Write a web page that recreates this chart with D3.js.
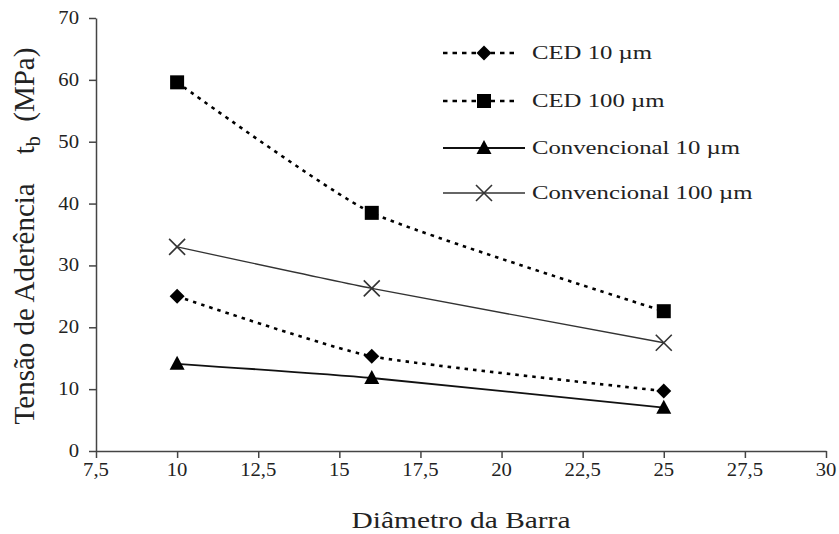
<!DOCTYPE html>
<html>
<head>
<meta charset="utf-8">
<script src="https://cdn.jsdelivr.net/npm/d3@7"></script>
<style>
  body { margin: 0; background: #fff; }
  svg { font-family: "Liberation Serif", "Times New Roman", serif; }
</style>
</head>
<body>
<svg width="839" height="534"></svg>
<script>
// data
diametros = [10, 16, 25];
ced10 = [25.0, 15.3, 9.7];
ced100 = [59.6, 38.5, 22.6];
conv10 = [14.1, 11.8, 7.0];
conv100 = [33.0, 26.3, 17.5];
xTicks = [7.5, 10, 12.5, 15, 17.5, 20, 22.5, 25, 27.5, 30];
yTicks = [0, 10, 20, 30, 40, 50, 60, 70];
seriesNames = ['CED 10 \u00b5m', 'CED 100 \u00b5m', 'Convencional 10 \u00b5m', 'Convencional 100 \u00b5m'];

svg = d3.select('svg');

plotLeft = 96; plotRight = 826; plotTop = 18; plotBottom = 451;

xScale = d3.scaleLinear().domain([7.5, 30]).range([plotLeft, plotRight]);
yScale = d3.scaleLinear().domain([0, 70]).range([plotBottom, plotTop]);

axisColor = '#444';
textColor = '#222';

// text helper, stretched in x around its anchor point (picture text is wide)
stretchedText = (x, y, str, size, anchor, sx) => {
    return svg.append('text')
        .attr('transform', `translate(${x},${y}) scale(${sx},1)`)
        .attr('text-anchor', anchor)
        .attr('font-size', size)
        .attr('fill', textColor)
        .text(str);
};

// axes
svg.append('g')
    .attr('transform', `translate(0, ${plotBottom})`)
    .call(d3.axisBottom(xScale).tickValues(xTicks).tickSize(7).tickSizeOuter(0).tickFormat(''));
svg.append('g')
    .attr('transform', `translate(${plotLeft}, 0)`)
    .call(d3.axisLeft(yScale).tickValues(yTicks).tickSize(7).tickSizeOuter(0).tickFormat(''));
svg.selectAll('.domain, .tick line')
    .attr('stroke', axisColor)
    .attr('stroke-width', 1.5);

// tick labels
fmt = (v) => String(v).replace('.', ',');
xTicks.forEach((t) => stretchedText(xScale(t), plotBottom + 25, fmt(t), 18, 'middle', 1.15));
yTicks.forEach((t) => stretchedText(79, yScale(t) + 6, fmt(t), 18, 'end', 1.15));

// axis titles
stretchedText(461, 528, 'Di\u00e2metro da Barra', 23, 'middle', 1.28);

yLab = svg.append('text')
    .attr('transform', `translate(34, 236) rotate(-90)`)
    .attr('text-anchor', 'middle')
    .attr('font-size', 29)
    .attr('fill', textColor);
yLab.append('tspan').text('Tens\u00e3o de Ader\u00eancia\u00a0\u00a0\u00a0 t');
yLab.append('tspan').attr('font-size', 20).attr('dy', 6).text('b');
yLab.append('tspan').attr('dy', -6).text('\u00a0 (MPa)');

// series
series = [
    { name: seriesNames[0], values: ced10, dash: '3.5,5', width: 2.6, marker: 'diamond', color: '#000' },
    { name: seriesNames[1], values: ced100, dash: '3.5,5', width: 2.6, marker: 'square', color: '#000' },
    { name: seriesNames[2], values: conv10, dash: null, width: 1.8, marker: 'triangle', color: '#111' },
    { name: seriesNames[3], values: conv100, dash: null, width: 1.3, marker: 'cross', color: '#333' }
];

lineGen = d3.line()
    .x((d) => xScale(d[0]))
    .y((d) => yScale(d[1]))
    .curve(d3.curveCardinal.tension(0.5));

drawMarker = (g, type, x, y) => {
    if (type === 'square') {
        g.append('rect').attr('x', x - 7).attr('y', y - 7).attr('width', 14).attr('height', 14).attr('fill', '#000');
    } else if (type === 'diamond') {
        g.append('path').attr('d', `M${x},${y - 7.5}L${x + 7.5},${y}L${x},${y + 7.5}L${x - 7.5},${y}Z`).attr('fill', '#000');
    } else if (type === 'triangle') {
        g.append('path').attr('d', `M${x},${y - 8}L${x + 7.5},${y + 6}L${x - 7.5},${y + 6}Z`).attr('fill', '#000');
    } else {
        g.append('path').attr('d', `M${x - 8},${y - 8}L${x + 8},${y + 8}M${x - 8},${y + 8}L${x + 8},${y - 8}`)
            .attr('stroke', '#333').attr('stroke-width', 1.6).attr('fill', 'none');
    }
};

series.forEach((s) => {
    pts = diametros.map((d, i) => [d, s.values[i]]);
    svg.append('path')
        .attr('d', lineGen(pts))
        .attr('fill', 'none')
        .attr('stroke', s.color)
        .attr('stroke-width', s.width)
        .attr('stroke-dasharray', s.dash);
    g = svg.append('g');
    pts.forEach((p) => drawMarker(g, s.marker, xScale(p[0]), yScale(p[1])));
});

// legend
legendY = [53, 101, 148, 193];
series.forEach((s, i) => {
    y = legendY[i];
    svg.append('line')
        .attr('x1', 443).attr('x2', s.dash ? 519 : 525)
        .attr('y1', y).attr('y2', y)
        .attr('stroke', s.color)
        .attr('stroke-width', s.width)
        .attr('stroke-dasharray', s.dash ? '4.5,5' : null);
    drawMarker(svg.append('g'), s.marker, 484, y);
    stretchedText(532, y + 6, s.name, 19.5, 'start', 1.27);
});
</script>
</body>
</html>
